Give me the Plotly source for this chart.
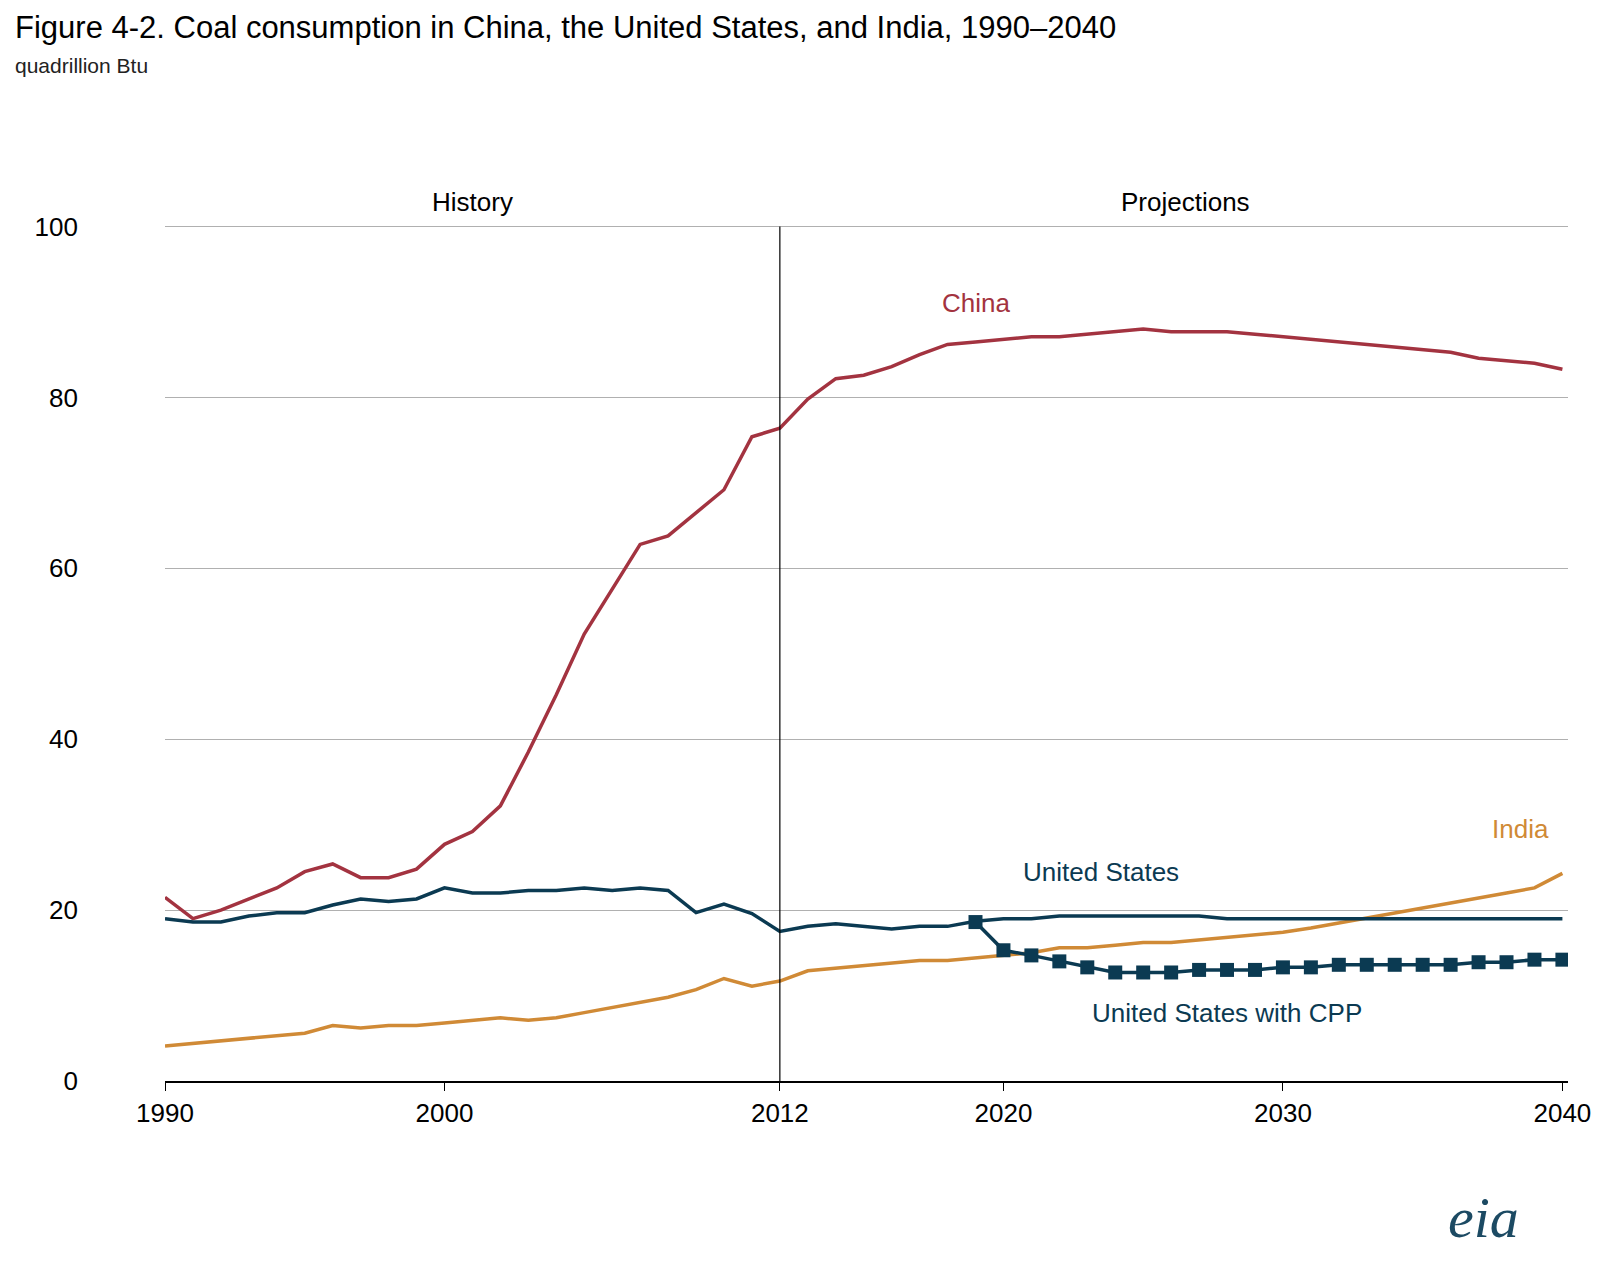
import plotly.graph_objects as go

years = list(range(1990, 2041))
china = [21.5, 19.0, 20.0, 21.3, 22.6, 24.5, 25.4, 23.8, 23.8, 24.8,
         27.7, 29.2, 32.2, 38.5, 45.2, 52.3, 57.5, 62.8, 63.8, 66.5,
         69.2, 75.4, 76.4, 79.8, 82.2, 82.6, 83.6, 85.0, 86.2, 86.5,
         86.8, 87.1, 87.1, 87.4, 87.7, 88.0, 87.7, 87.7, 87.7, 87.4,
         87.1, 86.8, 86.5, 86.2, 85.9, 85.6, 85.3, 84.6, 84.3, 84.0, 83.3]
us = [19.0, 18.6, 18.6, 19.3, 19.7, 19.7, 20.6, 21.3, 21.0, 21.3,
      22.6, 22.0, 22.0, 22.3, 22.3, 22.6, 22.3, 22.6, 22.3, 19.7,
      20.7, 19.6, 17.5, 18.1, 18.4, 18.1, 17.8, 18.1, 18.1, 18.7,
      19.0, 19.0, 19.3, 19.3, 19.3, 19.3, 19.3, 19.3, 19.0, 19.0,
      19.0, 19.0, 19.0, 19.0, 19.0, 19.0, 19.0, 19.0, 19.0, 19.0, 19.0]
india = [4.1, 4.4, 4.7, 5.0, 5.3, 5.6, 6.5, 6.2, 6.5, 6.5,
         6.8, 7.1, 7.4, 7.1, 7.4, 8.0, 8.6, 9.2, 9.8, 10.7,
         12.0, 11.1, 11.7, 12.9, 13.2, 13.5, 13.8, 14.1, 14.1, 14.4,
         14.7, 15.0, 15.6, 15.6, 15.9, 16.2, 16.2, 16.5, 16.8, 17.1,
         17.4, 17.9, 18.5, 19.0, 19.6, 20.2, 20.8, 21.4, 22.0, 22.6, 24.3]
cpp_years = list(range(2019, 2041))
us_cpp = [18.6, 15.3, 14.7, 14.0, 13.3, 12.7, 12.7, 12.7, 13.0, 13.0, 13.0,
          13.3, 13.3, 13.6, 13.6, 13.6, 13.6, 13.6, 13.9, 13.9, 14.2, 14.2]
tick_years = [1990, 2000, 2012, 2020, 2030, 2040]

RED = "#a33340"
NAVY = "#0b3a52"
ORANGE = "#d08a36"

fig = go.Figure()
fig.add_trace(go.Scatter(x=years, y=china, mode="lines", line=dict(color=RED, width=3.5)))
fig.add_trace(go.Scatter(x=years, y=india, mode="lines", line=dict(color=ORANGE, width=3.5)))
fig.add_trace(go.Scatter(x=years, y=us, mode="lines", line=dict(color=NAVY, width=3.5)))
fig.add_trace(go.Scatter(x=cpp_years, y=us_cpp, mode="lines+markers",
                         line=dict(color=NAVY, width=3.5),
                         marker=dict(symbol="square", size=14, color=NAVY)))

fig.add_shape(type="line", x0=2012, x1=2012, y0=0, y1=100, line=dict(color="black", width=1.2))

font = "Arial, Liberation Sans, sans-serif"
for x, t in [(2001, "History"), (2026.5, "Projections")]:
    fig.add_annotation(x=x, y=1.045, yref="paper", text=t, showarrow=False,
                       font=dict(size=26, color="black"))
ann = [
    (2019, 91, "China", RED), (2038.5, 29.5, "India", ORANGE),
    (2023.5, 24.5, "United States", NAVY), (2028, 8, "United States with CPP", NAVY),
]
for x, y, t, c in ann:
    fig.add_annotation(x=x, y=y, text=t, showarrow=False, font=dict(size=26, color=c))

fig.add_annotation(xref="paper", yref="paper", x=-0.108, y=1.252, xanchor="left",
                   text="Figure 4-2. Coal consumption in China, the United States, and India, 1990–2040",
                   showarrow=False, font=dict(size=31, color="black"))
fig.add_annotation(xref="paper", yref="paper", x=-0.108, y=1.201, xanchor="left",
                   text="quadrillion Btu", showarrow=False, font=dict(size=21, color="#222"))
fig.add_annotation(xref="paper", yref="paper", x=0.94, y=-0.2, xanchor="center",
                   text="<i>eia</i>", showarrow=False,
                   font=dict(size=58, color="#1c4a63", family="Liberation Serif, serif"))

fig.update_layout(
    width=1600, height=1261, showlegend=False,
    paper_bgcolor="white", plot_bgcolor="white",
    margin=dict(l=157, r=40, t=216, b=188),
    font=dict(family=font, size=26, color="black"),
)
fig.update_xaxes(range=[1990, 2040.2], tickvals=tick_years, showgrid=False,
                 showline=True, linecolor="black", linewidth=1.5,
                 ticks="outside", ticklen=8, tickcolor="black", tickfont=dict(size=26))
fig.update_yaxes(range=[0, 100.3], tickvals=[0, 20, 40, 60, 80, 100],
                 showgrid=True, gridcolor="#b0b0b0", gridwidth=1, zeroline=False,
                 ticklabelstandoff=86, tickfont=dict(size=26))

fig.write_html("out.html")
